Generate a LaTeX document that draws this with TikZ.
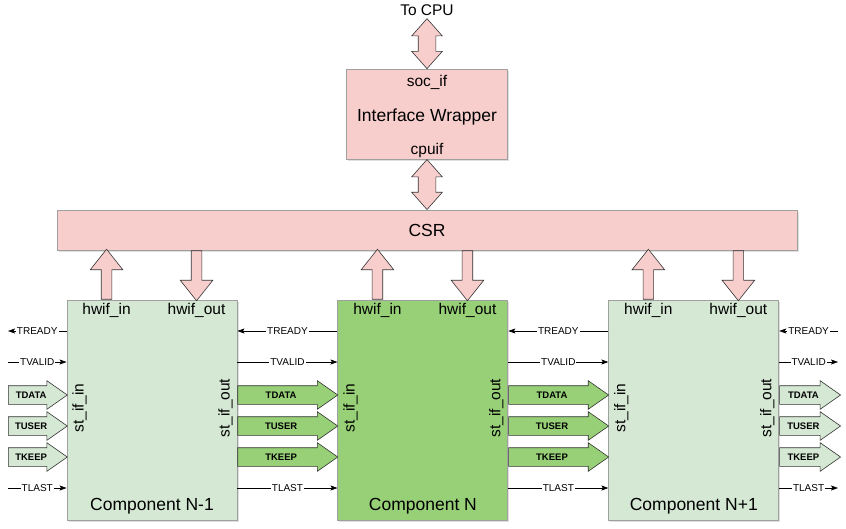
\documentclass[tikz,border=0pt]{standalone}
\usepackage{fontspec}
\setmainfont{Liberation Sans}
\usetikzlibrary{positioning,calc,shapes.arrows,arrows.meta,shadows}

\definecolor{pinkfill}{HTML}{F8CECC}
\definecolor{ltgreen}{HTML}{D5E8D4}
\definecolor{midgreen}{HTML}{97D077}
\definecolor{boxline}{HTML}{A0A0A0}
\definecolor{arrline}{HTML}{333333}

\tikzset{
  box/.style={rectangle, draw=boxline, line width=0.9pt,
    drop shadow={shadow xshift=1.5pt, shadow yshift=-1.5pt, opacity=0.25}},
  comp/.style={box, fill=ltgreen, minimum width=170pt, minimum height=220pt, inner sep=0pt},
  bigtxt/.style={font=\fontsize{17.5}{20}\selectfont},
  porttxt/.style={font=\fontsize{15.5}{18}\selectfont, inner sep=0pt},
  sig/.style={line width=0.6pt, -{Stealth[length=7pt, width=5pt, inset=1.5pt]}},
  siglbl/.style={font=\fontsize{10}{11}\selectfont, fill=white, inner sep=1pt},
  busarrow/.style={single arrow, draw=arrline, line width=0.6pt, anchor=tail,
    font=\bfseries\fontsize{9.5}{10}\selectfont,
    text height=7pt, text depth=0pt, inner xsep=0pt, inner ysep=5.5pt,
    single arrow head extend=5pt, single arrow tip angle=70, minimum height=100pt},
  hwarrow/.style={single arrow, draw=arrline, fill=pinkfill, line width=0.6pt, anchor=tail,
    text height=0pt, text depth=0pt, inner xsep=0pt, inner ysep=5pt,
    single arrow head extend=11pt, single arrow tip angle=77, minimum height=50pt},
  cpuarrow/.style={double arrow, draw=arrline, fill=pinkfill, line width=0.6pt,
    text height=0pt, text depth=0pt, inner xsep=0pt, inner ysep=8.5pt, rotate=90,
    double arrow head extend=6.5pt, double arrow tip angle=83, minimum height=50pt},
}

\begin{document}
\begin{tikzpicture}[x=1pt, y=-1pt]
  \useasboundingbox (0,0) rectangle (846,528);

  % CSR and interface wrapper
  \node[box, fill=pinkfill, minimum width=740pt, minimum height=40pt, bigtxt] (csr) at (427,230) {CSR};
  \node[box, fill=pinkfill, minimum width=161pt, minimum height=90pt] (wrap) [above=50pt of csr] {};
  \node[bigtxt] (wraptxt) at ([yshift=-3pt]wrap.center) {Interface Wrapper};
  \node[porttxt] (socif) at ([yshift=-14pt]wrap.north) {soc\_if};
  \node[porttxt] (cpuif) at ([yshift=9pt]wrap.south) {cpuif};
  \node[porttxt] (tocpu) at (427,10) {To CPU};
  \node[cpuarrow] (cpu1) at ($(wrap.north)+(0,-25)$) {};
  \node[cpuarrow] (cpu2) at ($(wrap.south)!0.5!(csr.north-|wrap.south)$) {};

  % components
  \node[comp] (c1) at (152,410) {};
  \node[comp, fill=midgreen] (c2) [right=100pt of c1] {};
  \node[comp] (c3) [right=100pt of c2] {};

  \foreach \c/\t in {c1/Component N-1, c2/Component N, c3/Component N+1} {
    \node[porttxt] (\c-in) at ([xshift=40pt, yshift=-11pt]\c.north west) {hwif\_in};
    \node[porttxt] (\c-out) at ([xshift=130pt, yshift=-11pt]\c.north west) {hwif\_out};
    \node[porttxt, rotate=90] (\c-st) at ([xshift=13pt, yshift=2pt]\c.west) {st\_if\_in};
    \node[porttxt, rotate=90] (\c-so) at ([xshift=-12pt, yshift=2pt]\c.east) {st\_if\_out};
    \node[bigtxt, inner sep=0pt] (\c-name) at ([yshift=14pt]\c.south) {\t};
    \node[hwarrow, rotate=90] (\c-up) at (\c-in|-\c.north) {};
    \node[hwarrow, rotate=-90] (\c-dn) at (\c-out|-csr.south) {};
  }

  % stream signal rows
  \coordinate (yready) at (0,331);
  \coordinate (yvalid) at (0,362);
  \coordinate (ydata) at (0,395);
  \coordinate (yuser) at (0,426);
  \coordinate (ykeep) at (0,457);
  \coordinate (ylast) at (0,488);
  \coordinate (lft) at (8,0);
  \coordinate (rgt) at (838,0);

  \foreach \a/\b in {c1/c2, c2/c3} {
    \draw[sig] (\b.west|-yready) -- node[siglbl] {TREADY} (\a.east|-yready);
    \draw[sig] (\a.east|-yvalid) -- node[siglbl] {TVALID} (\b.west|-yvalid);
    \draw[sig] (\a.east|-ylast) -- node[siglbl] {TLAST} (\b.west|-ylast);
    \node[busarrow, fill=midgreen] (\a-data) at (\a.east|-ydata) {TDATA};
    \node[busarrow, fill=midgreen] (\a-user) at (\a.east|-yuser) {TUSER};
    \node[busarrow, fill=midgreen] (\a-keep) at (\a.east|-ykeep) {TKEEP};
  }

  % outer inputs and outputs
  \draw[sig] (c1.west|-yready) -- node[siglbl] {TREADY} (lft|-yready);
  \draw[sig] (lft|-yvalid) -- node[siglbl] {TVALID} (c1.west|-yvalid);
  \draw[sig] (lft|-ylast) -- node[siglbl] {TLAST} (c1.west|-ylast);
  \draw[sig] (rgt|-yready) -- node[siglbl] {TREADY} (c3.east|-yready);
  \draw[sig] (c3.east|-yvalid) -- node[siglbl] {TVALID} (rgt|-yvalid);
  \draw[sig] (c3.east|-ylast) -- node[siglbl] {TLAST} (rgt|-ylast);
  \foreach \y/\t in {ydata/TDATA, yuser/TUSER, ykeep/TKEEP} {
    \node[busarrow, fill=ltgreen, minimum height=59pt] (in-\t) at (lft|-\y) {\t};
    \node[busarrow, fill=ltgreen, minimum height=61pt] (out-\t) at (c3.east|-\y) {\t};
  }
\end{tikzpicture}
\end{document}
